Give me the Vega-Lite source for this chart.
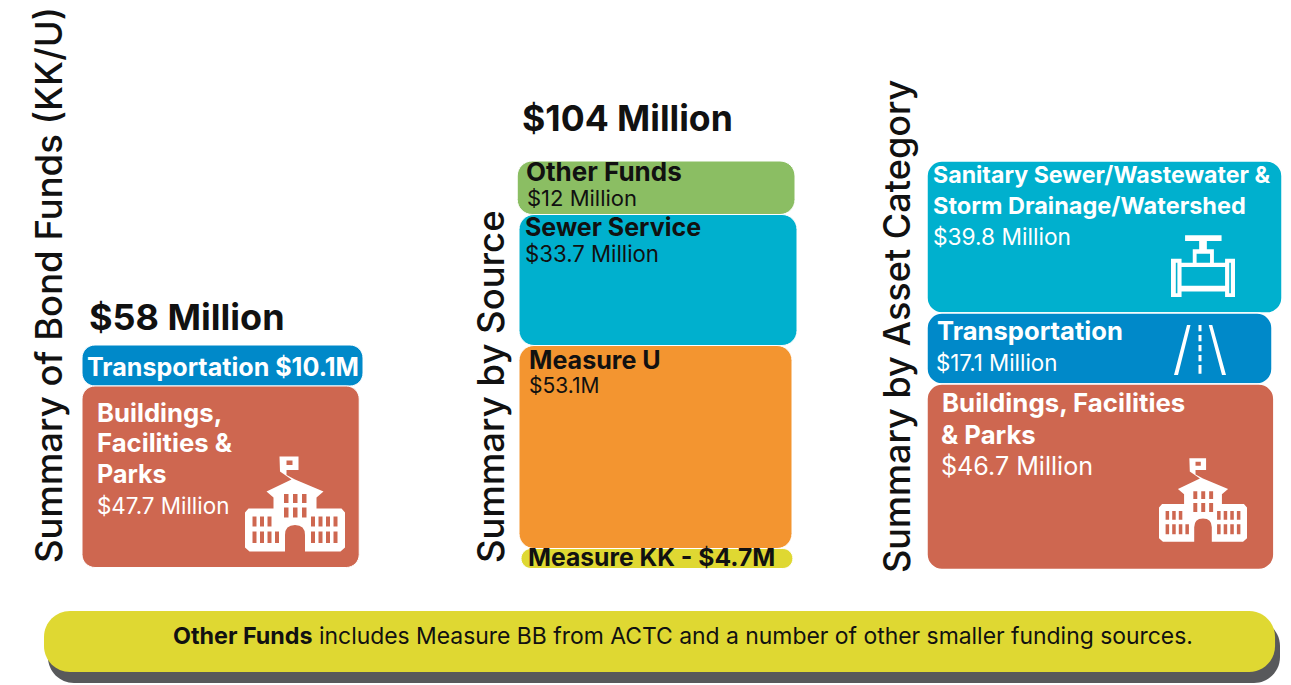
{"$schema":"https://vega.github.io/schema/vega-lite/v6.json","width":1291,"height":685,"padding":0,"autosize":{"type":"fit","contains":"padding"},"background":"#ffffff","config":{"view":{"stroke":null}},
"datasets":{
"segments":[
{"id":1,"end":3,"column":"Bond Funds","rank":2,"category":"Transportation","amount":10.1},
{"id":2,"end":4,"column":"Bond Funds","rank":1,"category":"Buildings, Facilities & Parks","amount":47.7},
{"id":1,"end":5,"column":"Source","rank":4,"category":"Other Funds","amount":12},
{"id":2,"end":6,"column":"Source","rank":3,"category":"Sewer Service","amount":33.7},
{"id":3,"end":7,"column":"Source","rank":2,"category":"Measure U","amount":53.1},
{"id":4,"end":8,"column":"Source","rank":1,"category":"Measure KK","amount":4.7},
{"id":1,"end":4,"column":"Asset","rank":3,"category":"Sanitary Sewer","amount":39.8},
{"id":2,"end":5,"column":"Asset","rank":2,"category":"Transportation","amount":17.1},
{"id":3,"end":6,"column":"Asset","rank":1,"category":"Buildings, Facilities & Parks","amount":46.7}],
"note":[{"id":1,"end":3,"band":"shadow"},{"id":2,"end":4,"band":"panel"}],
"bold":[
{"id":1,"text":"Transportation $10.1M","tone":"light"},
{"id":2,"text":"Buildings,","tone":"light"},
{"id":3,"text":"Facilities &","tone":"light"},
{"id":4,"text":"Parks","tone":"light"},
{"id":5,"text":"Other Funds","tone":"dark"},
{"id":6,"text":"Sewer Service","tone":"dark"},
{"id":7,"text":"Measure U","tone":"dark"},
{"id":8,"text":"Measure KK - $4.7M","tone":"dark"},
{"id":9,"text":"Sanitary Sewer/Wastewater &","tone":"light"},
{"id":10,"text":"Storm Drainage/Watershed","tone":"light"},
{"id":11,"text":"Transportation","tone":"light"},
{"id":12,"text":"Buildings, Facilities","tone":"light"},
{"id":13,"text":"& Parks","tone":"light"},
{"id":14,"text":"Other Funds","tone":"dark"},
{"id":15,"text":"$58 Million","tone":"dark"},
{"id":16,"text":"$104 Million","tone":"dark"}],
"regular":[
{"id":1,"text":"$47.7 Million","tone":"light"},
{"id":2,"text":"$12 Million","tone":"dark"},
{"id":3,"text":"$33.7 Million","tone":"dark"},
{"id":4,"text":"$53.1M","tone":"dark"},
{"id":5,"text":"$39.8 Million","tone":"light"},
{"id":6,"text":"$17.1 Million","tone":"light"},
{"id":7,"text":"$46.7 Million","tone":"light"},
{"id":8,"text":"includes Measure BB from ACTC and a number of other smaller funding sources.","tone":"dark"}],
"sideTitles":[{"id":1,"text":"Summary of Bond Funds (KK/U)"},{"id":2,"text":"Summary by Source"},{"id":3,"text":"Summary by Asset Category"}],
"icons":[{"id":1,"icon":"school"},{"id":2,"icon":"school"},{"id":3,"icon":"valve"},{"id":4,"icon":"road"}]
},
"resolve":{"scale":{"x":"independent","y":"independent","size":"independent"}},
"layer":[
{"data":{"name":"note"},"mark":{"type":"bar","orient":"vertical","cornerRadius":26},
"encoding":{
"x":{"field":"id","type":"quantitative","axis":null,"scale":{"domain":[1,2,3,4],"range":[48,44,1280,1275],"zero":false,"nice":false}},
"x2":{"field":"end"},
"y":{"field":"id","type":"quantitative","axis":null,"scale":{"domain":[1,2,3,4],"range":[620,611,683,672],"zero":false,"nice":false}},
"y2":{"field":"end"},
"color":{"field":"band","type":"nominal","legend":null,"scale":{"domain":["shadow","panel","Transportation","Buildings, Facilities & Parks","Other Funds","Sewer Service","Measure U","Measure KK","Sanitary Sewer"],"range":["#58595b","#dfd832","#0089c9","#ce6750","#8bbe63","#00b0ce","#f39530","#dfd832","#00b0ce"]}}}},
{"data":{"name":"segments"},"transform":[{"filter":"datum.column==='Bond Funds'"},{"stack":"amount","groupby":["column"],"sort":[{"field":"rank","order":"ascending"}],"as":["y0","y1"]}],
"mark":{"type":"bar","orient":"vertical","cornerRadius":13,"stroke":"#ffffff","strokeWidth":1},
"encoding":{
"x":{"field":"id","type":"quantitative","axis":null,"scale":{"domain":[1,2,3,4],"range":[82,82,363,359],"zero":false,"nice":false}},
"x2":{"field":"end"},
"y":{"field":"y0","type":"quantitative","axis":null,"scale":{"domain":[0,47.7,57.8],"range":[567.5,386,345],"zero":false,"nice":false}},
"y2":{"field":"y1"},
"color":{"field":"category","type":"nominal","legend":null}}},
{"data":{"name":"segments"},"transform":[{"filter":"datum.column==='Source'"},{"stack":"amount","groupby":["column"],"sort":[{"field":"rank","order":"ascending"}],"as":["y0","y1"]}],
"mark":{"type":"bar","orient":"vertical","cornerRadius":15,"stroke":"#ffffff","strokeWidth":1},
"encoding":{
"x":{"field":"id","type":"quantitative","axis":null,"scale":{"domain":[1,2,3,4,5,6,7,8],"range":[517,519,519,521,795,797,792,793],"zero":false,"nice":false}},
"x2":{"field":"end"},
"y":{"field":"y0","type":"quantitative","axis":null,"scale":{"domain":[0,4.7,57.8,91.5,103.5],"range":[568.5,548.5,345.5,214.5,161],"zero":false,"nice":false}},
"y2":{"field":"y1"},
"color":{"field":"category","type":"nominal","legend":null}}},
{"data":{"name":"segments"},"transform":[{"filter":"datum.column==='Asset'"},{"stack":"amount","groupby":["column"],"sort":[{"field":"rank","order":"ascending"}],"as":["y0","y1"]}],
"mark":{"type":"bar","orient":"vertical","cornerRadius":15,"stroke":"#ffffff","strokeWidth":1.5},
"encoding":{
"x":{"field":"id","type":"quantitative","axis":null,"scale":{"domain":[1,2,3,4,5,6],"range":[927,927,927,1282,1272,1274],"zero":false,"nice":false}},
"x2":{"field":"end"},
"y":{"field":"y0","type":"quantitative","axis":null,"scale":{"domain":[0,46.7,63.8,103.6],"range":[569.5,384,313,161],"zero":false,"nice":false}},
"y2":{"field":"y1"},
"color":{"field":"category","type":"nominal","legend":null}}},
{"data":{"name":"bold"},"mark":{"type":"text","font":"Inter","fontWeight":700,"align":"left","baseline":"middle"},
"encoding":{
"x":{"field":"id","type":"quantitative","axis":null,"scale":{"domain":[1,2,3,4,5,6,7,8,9,10,11,12,13,14,15,16],"range":[87,97,97,97,526,525,529,528,933,933,937,942,941,173,89,522],"zero":false,"nice":false}},
"y":{"field":"id","type":"quantitative","axis":null,"scale":{"domain":[1,2,3,4,5,6,7,8,9,10,11,12,13,14,15,16],"range":[368,414,444,475,173,228,361,559,176,207,332,404,436,637,319,120],"zero":false,"nice":false}},
"size":{"field":"id","type":"quantitative","legend":null,"scale":{"domain":[1,2,3,4,5,6,7,8,9,10,11,12,13,14,15,16],"range":[25.1,25.7,25.7,25,26,25,25.1,24.7,23.2,23.5,25.6,25.8,25.7,23.3,36,35.6],"zero":false}},
"fill":{"field":"tone","type":"nominal","legend":null,"scale":{"domain":["dark","light"],"range":["#111111","#ffffff"]}},
"text":{"field":"text"}}},
{"data":{"name":"regular"},"mark":{"type":"text","font":"Inter","fontWeight":400,"align":"left","baseline":"middle"},
"encoding":{
"x":{"field":"id","type":"quantitative","axis":null,"scale":{"domain":[1,2,3,4,5,6,7,8],"range":[97,527,525,529,933,936,941,319],"zero":false,"nice":false}},
"y":{"field":"id","type":"quantitative","axis":null,"scale":{"domain":[1,2,3,4,5,6,7,8],"range":[507,199,255,387,238,364,467,637],"zero":false,"nice":false}},
"size":{"field":"id","type":"quantitative","legend":null,"scale":{"domain":[1,2,3,4,5,6,7,8],"range":[22.4,22,22.2,21,22.7,22.3,25.1,22.9],"zero":false}},
"fill":{"field":"tone","type":"nominal","legend":null,"scale":{"domain":["dark","light"],"range":["#111111","#ffffff"]}},
"text":{"field":"text"}}},
{"data":{"name":"sideTitles"},"mark":{"type":"text","font":"Inter","fontWeight":500,"align":"left","baseline":"middle","angle":270,"color":"#111111"},
"encoding":{
"x":{"field":"id","type":"quantitative","axis":null,"scale":{"domain":[1,2,3],"range":[51,493,899],"zero":false,"nice":false}},
"y":{"field":"id","type":"quantitative","axis":null,"scale":{"domain":[1,2,3],"range":[563,563,573],"zero":false,"nice":false}},
"size":{"field":"id","type":"quantitative","legend":null,"scale":{"domain":[1,2,3],"range":[36.5,36.5,36.1],"zero":false}},
"text":{"field":"text"}}},
{"data":{"name":"icons"},"mark":{"type":"point","filled":true,"color":"#ffffff","opacity":1},
"encoding":{
"x":{"field":"id","type":"quantitative","axis":null,"scale":{"domain":[1,2,3,4],"range":[295,1203,1203,1200],"zero":false,"nice":false}},
"y":{"field":"id","type":"quantitative","axis":null,"scale":{"domain":[1,2,3,4],"range":[504,500,266,350],"zero":false,"nice":false}},
"size":{"field":"id","type":"quantitative","legend":null,"scale":{"domain":[1,2,3,4],"range":[10000,7744,4096,2500],"zero":false}},
"shape":{"field":"icon","type":"nominal","legend":null,"scale":{"domain":["school","valve","road"],"range":[
"M-0.31 -0.95L0.07 -0.95L0.07 -0.68L-0.17 -0.68L-0.17 -0.58L0 -0.49L0.57 -0.25L0.43 -0.13L0.43 0.09L0.93 0.09L1 0.17L1 0.87L0.91 0.95L0.2 0.95L0.2 0.62Q0.2 0.42 0 0.42Q-0.2 0.42 -0.2 0.62L-0.2 0.95L-0.91 0.95L-1 0.87L-1 0.17L-0.93 0.09L-0.43 0.09L-0.43 -0.13L-0.57 -0.25L-0.07 -0.49L-0.3 -0.65ZM-0.17 -0.87V-0.78H-0.05V-0.87ZM-0.22 -0.2V-0.02H-0.13V-0.2ZM-0.04 -0.2V-0.02H0.05V-0.2ZM0.14 -0.2V-0.02H0.23V-0.2ZM-0.22 0.07V0.27H-0.13V0.07ZM-0.04 0.07V0.27H0.05V0.07ZM0.14 0.07V0.27H0.23V0.07ZM-0.85 0.25V0.45H-0.77V0.25ZM-0.7 0.25V0.45H-0.62V0.25ZM-0.55 0.25V0.45H-0.47V0.25ZM-0.85 0.55V0.78H-0.77V0.55ZM-0.7 0.55V0.78H-0.62V0.55ZM-0.55 0.55V0.78H-0.47V0.55ZM-0.4 0.55V0.78H-0.32V0.55ZM0.32 0.25V0.45H0.4V0.25ZM0.47 0.25V0.45H0.55V0.25ZM0.62 0.25V0.45H0.7V0.25ZM0.77 0.25V0.45H0.85V0.25ZM0.32 0.55V0.78H0.4V0.55ZM0.47 0.55V0.78H0.55V0.55ZM0.62 0.55V0.78H0.7V0.55ZM0.77 0.55V0.78H0.85V0.55Z",
"M-0.56 -0.96H0.58V-0.78H0.12V-0.52H0.34V-0.1H0.69V-0.23H1V0.97H0.69V0.8H-0.67V0.97H-1V-0.23H-0.67V-0.1H-0.32V-0.52H-0.12V-0.78H-0.56ZM-0.2 -0.38V-0.1H0.22V-0.38ZM-0.67 0.03V0.62H0.69V0.03ZM-0.85 -0.1V0.85H-0.8V-0.1ZM0.82 -0.1V0.85H0.87V-0.1Z",
"M-0.52 -1L-0.38 -1L-0.88 1L-1.04 1ZM0.35 -1L0.49 -1L1.04 1L0.88 1ZM-0.06 -1H0.06V-0.75H-0.06ZM-0.06 -0.6H0.06V-0.35H-0.06ZM-0.06 -0.2H0.06V0.05H-0.06ZM-0.06 0.2H0.06V0.45H-0.06ZM-0.06 0.6H0.06V0.95H-0.06Z"]}}}}
]}
